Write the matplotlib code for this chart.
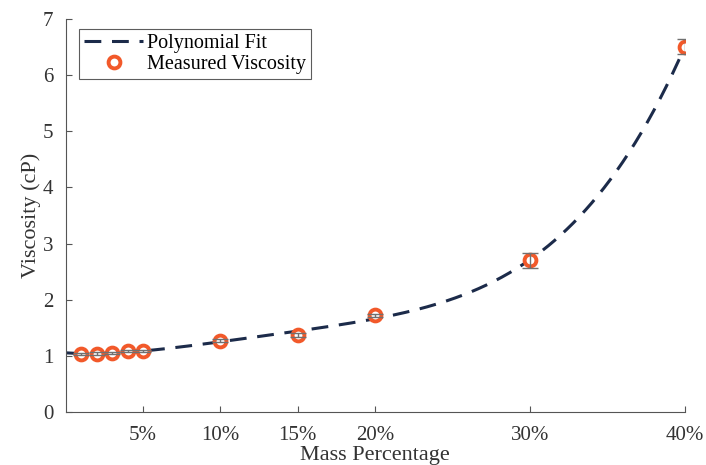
import numpy as np
import matplotlib
matplotlib.use("Agg")
import matplotlib.pyplot as plt
from matplotlib.ticker import FuncFormatter

plt.rcParams['font.family'] = ['Liberation Serif', 'DejaVu Serif']

mass_pct = [1, 2, 3, 4, 5, 10, 15, 20, 30, 40]
viscosity = [1.03, 1.04, 1.05, 1.08, 1.09, 1.27, 1.37, 1.72, 2.70, 6.51]
visc_err = [0.02, 0.02, 0.02, 0.02, 0.02, 0.03, 0.03, 0.03, 0.14, 0.14]
xticks = [5, 10, 15, 20, 30, 40]
yticks = [0, 1, 2, 3, 4, 5, 6, 7]

coef = np.polyfit(mass_pct, viscosity, 4)
xf = np.linspace(0, 40, 400)
yf = np.polyval(coef, xf)

fig = plt.figure(figsize=(7.06, 4.65), dpi=100)
ax = fig.add_axes([0.093, 0.114, 0.877, 0.845])

ax.plot(xf, yf, linestyle=(0, (5.5, 3.5)), color='#1c2b4a', lw=2.2, label='Polynomial Fit', zorder=2)
ax.plot(mass_pct, viscosity, 'o', ms=8.5, mfc='white', mec='#f2592a', mew=2.8,
        label='Measured Viscosity', zorder=3)
ax.errorbar(mass_pct, viscosity, yerr=visc_err, fmt='none', ecolor='#707070',
            elinewidth=1, capsize=5.5, zorder=4)

ax.set_xlim(0, 40)
ax.set_ylim(0, 7)
ax.set_xticks(xticks)
ax.xaxis.set_major_formatter(FuncFormatter(lambda v, p: f"{int(v)}%"))
ax.set_yticks(yticks)
for s in ['top', 'right']:
    ax.spines[s].set_visible(False)
for s in ['left', 'bottom']:
    ax.spines[s].set_color('#555555')
    ax.spines[s].set_linewidth(0.8)
ax.tick_params(direction='in', length=4, colors='#555555', labelcolor='#333333', labelsize=15)
ax.tick_params(axis='x', pad=10)
ax.tick_params(axis='y', pad=9)
ax.set_xlabel('Mass Percentage', fontsize=16, color='#333333', labelpad=1)
ax.set_ylabel('Viscosity (cP)', fontsize=16, color='#333333', labelpad=1)

leg = ax.legend(loc='upper left', bbox_to_anchor=(0.022, 0.975), fontsize=14.5, frameon=True,
                fancybox=False, edgecolor='#333333', borderpad=0.25, handlelength=2.9,
                handletextpad=0.2, labelspacing=0.1, borderaxespad=0)
leg.get_frame().set_linewidth(0.8)

fig.savefig('out.png', dpi=100)
